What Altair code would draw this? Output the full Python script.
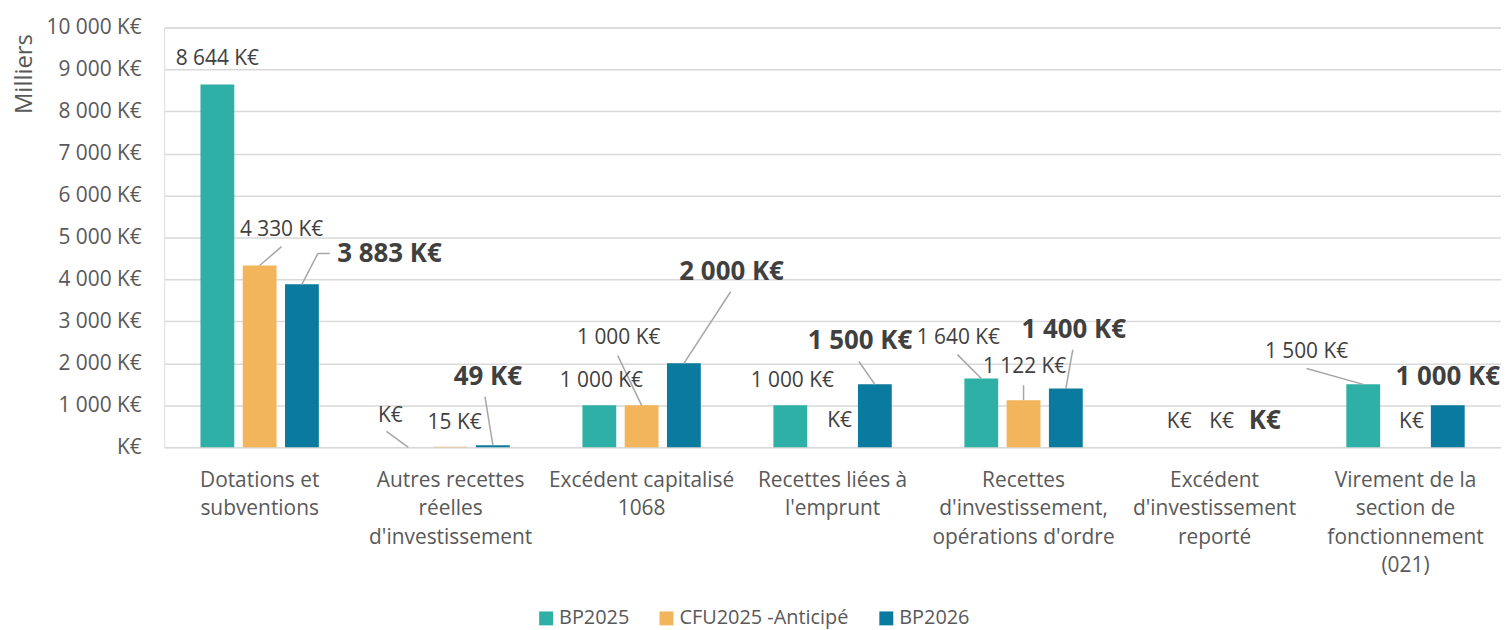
import altair as alt
import pandas as pd

# ---------------- data ----------------
CATEGORIES = [
    "Dotations et\nsubventions",
    "Autres recettes\nréelles\nd'investissement",
    "Excédent capitalisé\n1068",
    "Recettes liées à\nl'emprunt",
    "Recettes\nd'investissement,\nopérations d'ordre",
    "Excédent\nd'investissement\nreporté",
    "Virement de la\nsection de\nfonctionnement\n(021)",
]
SERIES = ["BP2025", "CFU2025 -Anticipé", "BP2026"]
BP2025 = [8644, 0, 1000, 1000, 1640, 0, 1500]
CFU2025 = [4330, 15, 1000, 0, 1122, 0, 0]
BP2026 = [3883, 49, 2000, 1500, 1400, 0, 1000]
Y_TICKS = list(range(0, 10001, 1000))

# ---------------- styles ----------------
COLORS = ["#2EB0A6", "#F3B55C", "#0A7A9E"]
FONT = "Open Sans"
AXIS_COLOR = "#595959"
LABEL_COLOR = "#404040"
W, H = 1344, 422
GROUP_OFFSET = 42.5 / 192.0  # fraction of a category slot

# label offsets in pixels (text centre relative to top of bar)
LABEL_OFFSETS = {
    (0, 0): (0, -26), (0, 1): (22, -36), (0, 2): (88, -30),
    (1, 0): (-18, -31), (1, 1): (4, -24), (1, 2): (-5, -69),
    (2, 0): (2, -24), (2, 1): (-23, -68), (2, 2): (48, -92),
    (3, 0): (2, -24), (3, 1): (7, -26), (3, 2): (-15, -44),
    (4, 0): (-23, -41), (4, 1): (1, -33), (4, 2): (8, -59),
    (5, 0): (7, -25), (5, 1): (7, -25), (5, 2): (8, -26),
    (6, 0): (-57, -32), (6, 1): (6, -25), (6, 2): (0, -28),
}
# leader line segments in pixels relative to top of bar
LEADERS = {
    (0, 1): [(0, 0, 22, -19)],
    (0, 2): [(0, 0, 16, -31), (16, -31, 28, -31)],
    (1, 0): [(0, 0, -22, -16)],
    (1, 2): [(0, 0, -8, -49)],
    (2, 1): [(0, 0, -24, -50)],
    (2, 2): [(0, 0, 47, -72)],
    (3, 2): [(0, 0, -16, -23)],
    (4, 0): [(0, 0, -24, -24)],
    (4, 1): [(0, 0, 0, -15)],
    (4, 2): [(0, 0, 7, -39)],
    (6, 0): [(0, 0, -57, -16)],
}


def fmt(v):
    if v == 0:
        return "K€"
    return f"{v:,}".replace(",", " ") + " K€"


rows = []
for s, vals in enumerate([BP2025, CFU2025, BP2026]):
    for c, v in enumerate(vals):
        rows.append({
            "cat": c, "s": s, "series": SERIES[s], "value": v,
            "xpos": c + (s - 1) * GROUP_OFFSET, "label": fmt(v),
        })
df = pd.DataFrame(rows)

X_ENC = alt.X("xpos:Q", scale=alt.Scale(domain=[-0.5, 6.5], nice=False, zero=False, padding=0), axis=None)
Y_ENC = alt.Y(
    "value:Q",
    scale=alt.Scale(domain=[0, 10000], nice=False),
    axis=alt.Axis(
        values=Y_TICKS,
        labelExpr="datum.value == 0 ? 'K€' : replace(format(datum.value, ','), ',', ' ') + ' K€'",
        labelFont=FONT, labelFontSize=21, labelColor=AXIS_COLOR, labelPadding=23,
        ticks=False, domain=False,
        grid=True, gridColor="#D9D9D9", gridWidth=1.5,
        title="Milliers", titleFont=FONT, titleFontSize=24, titleFontWeight="normal",
        titleColor=AXIS_COLOR, titleAngle=270, titleAlign="right", titleBaseline="middle",
        titleX=-140, titleY=6,
    ),
)

base = alt.Chart(df)

bars = base.mark_bar(size=34).encode(
    x=X_ENC,
    y=Y_ENC,
    color=alt.Color(
        "series:N",
        scale=alt.Scale(domain=SERIES, range=COLORS),
        sort=SERIES,
        legend=alt.Legend(
            orient="none", legendX=374, legendY=584, direction="horizontal",
            title=None, symbolType="square", symbolSize=196, symbolStrokeWidth=0,
            labelFont=FONT, labelFontSize=20, labelColor=AXIS_COLOR, labelOffset=3,
            labelLimit=0, columnPadding=27, padding=0,
        ),
    ),
)

layers = [bars]

# leader lines
for (c, s), segs in LEADERS.items():
    sub = df[(df.cat == c) & (df.s == s)]
    for (x1, y1, x2, y2) in segs:
        layers.append(
            alt.Chart(sub).mark_rule(
                color="#A6A6A6", strokeWidth=1.5,
                xOffset=x1, yOffset=y1, x2Offset=x2, y2Offset=y2,
            ).encode(x=X_ENC, x2="xpos:Q", y=Y_ENC, y2="value:Q")
        )

# data labels
for (c, s), (dx, dy) in LABEL_OFFSETS.items():
    sub = df[(df.cat == c) & (df.s == s)]
    bold = s == 2
    layers.append(
        alt.Chart(sub).mark_text(
            dx=dx, dy=dy, font=FONT, fontSize=26 if bold else 21,
            fontWeight="bold" if bold else "normal",
            color=LABEL_COLOR, align="center", baseline="middle",
        ).encode(x=X_ENC, y=Y_ENC, text="label:N")
    )

# category labels
cat_df = pd.DataFrame({"xpos": list(range(len(CATEGORIES))), "name": CATEGORIES})
layers.append(
    alt.Chart(cat_df).mark_text(
        font=FONT, fontSize=21, color=AXIS_COLOR, align="center", baseline="top",
        lineBreak="\n", lineHeight=28.5,
    ).encode(x=X_ENC, y=alt.value(H + 23), text="name:N")
)

chart = alt.layer(*layers).properties(
    width=W, height=H,
    autosize=alt.AutoSizeParams(type="none"),
    padding={"left": 157, "top": 18, "right": 0, "bottom": 182},
).configure_view(stroke=None).configure(font=FONT)

chart.save("out.html", embed_options={"renderer": "svg", "actions": False})
